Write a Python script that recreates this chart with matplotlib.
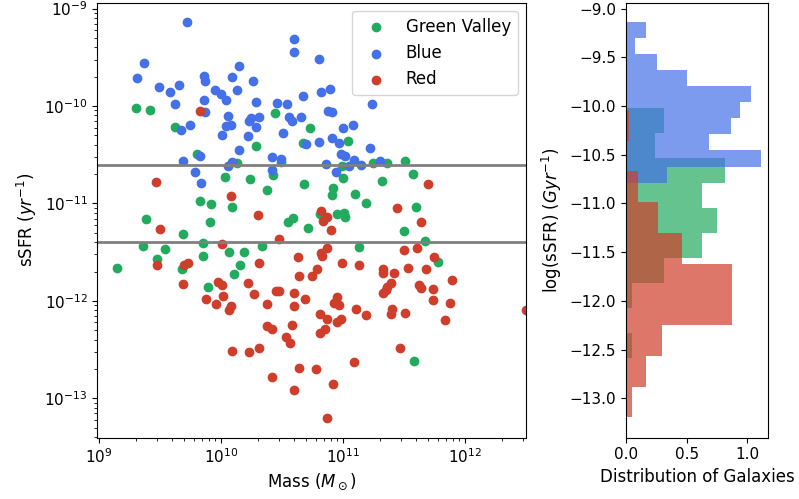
import numpy as np
import matplotlib
matplotlib.use("Agg")
import matplotlib.pyplot as plt
from matplotlib.ticker import NullFormatter

# log10 mass (Msun) and log10 sSFR (yr^-1) for each population
green_logm = [9.30, 9.42, 9.62, 10.44, 10.29, 9.80, 10.13, 10.49, 10.73, 10.67,
              11.04, 11.25, 11.36, 11.51, 10.99, 10.03, 10.24, 10.38, 10.43, 10.68,
              9.83, 9.92, 10.09, 9.39, 9.91, 9.69, 10.55, 10.59, 10.71, 9.36,
              9.54, 9.85, 9.85, 10.07, 10.19, 10.34, 9.48, 9.15, 9.68, 10.16,
              10.11, 9.89, 11.00, 10.92, 10.91, 11.10, 11.32, 11.57, 11.19, 11.60,
              10.81, 10.95, 11.01, 11.02, 11.50, 11.67, 11.13, 11.78, 11.58]
green_logs = [-10.02, -10.04, -10.22, -10.07, -10.41, -10.49, -10.59, -10.57, -10.23, -10.38,
              -10.36, -10.59, -10.59, -10.56, -10.62, -10.73, -10.75, -10.86, -10.71, -10.80,
              -10.97, -11.01, -11.04, -11.16, -11.19, -11.31, -11.19, -11.15, -11.25, -11.44,
              -11.47, -11.41, -11.54, -11.50, -11.50, -11.44, -11.57, -11.66, -11.67, -11.63,
              -11.72, -11.86, -10.74, -10.84, -10.91, -10.90, -10.77, -10.70, -11.00, -11.04,
              -11.11, -11.11, -11.10, -11.14, -11.28, -11.39, -11.45, -11.60, -12.62]

blue_logm = [9.72, 9.37, 9.31, 9.49, 9.58, 9.66, 9.62, 9.86, 9.87, 9.86,
             9.87, 9.95, 10.00, 10.04, 10.09, 10.13, 10.15, 10.26, 10.29, 10.06,
             10.04, 10.08, 10.01, 10.25, 10.23, 10.31, 10.29, 10.22, 10.15, 9.75,
             9.67, 9.69, 9.83, 10.09, 10.06, 10.42, 10.49, 10.51, 10.46, 10.54,
             10.60, 10.60, 10.67, 10.56, 10.58, 10.66, 10.70, 9.79, 10.42, 10.80,
             10.80, 10.82, 10.89, 11.24, 10.88, 10.91, 11.00, 11.08, 10.91, 10.97,
             11.22, 10.98, 11.02, 11.09, 11.15, 10.86, 11.30, 11.05, 9.84, 10.94]
blue_logs = [-9.14, -9.56, -9.71, -9.80, -9.86, -9.78, -9.98, -9.69, -9.74, -9.94,
             -10.06, -9.84, -9.88, -9.94, -9.70, -9.84, -9.59, -9.74, -9.96, -10.10,
             -10.21, -10.19, -10.30, -10.12, -10.15, -10.11, -10.22, -10.31, -10.45, -10.20,
             -10.25, -10.56, -10.51, -10.57, -10.62, -10.52, -10.54, -10.28, -9.97, -9.98,
             -9.31, -9.45, -9.90, -10.11, -10.15, -10.11, -10.39, -10.68, -10.66, -10.37,
             -9.52, -9.86, -9.83, -9.98, -10.05, -10.06, -10.23, -10.19, -10.33, -10.38,
             -10.43, -10.49, -10.51, -10.55, -10.61, -10.60, -10.56, -10.62, -10.79, -10.68]

red_logm = [9.83, 9.47, 10.08, 10.30, 9.50, 10.48, 10.01, 10.63, 9.48, 9.70,
            9.73, 10.31, 10.64, 10.75, 10.79, 9.69, 9.98, 10.01, 10.22, 10.27,
            10.02, 9.88, 9.96, 10.08, 10.07, 10.38, 10.45, 10.48, 10.60, 10.69,
            10.60, 11.70, 11.44, 11.64, 10.82, 10.87, 10.84, 10.90, 11.50, 11.61,
            10.87, 10.82, 10.83, 11.75, 10.99, 11.13, 11.33, 11.33, 11.42, 11.53,
            11.68, 11.89, 11.39, 11.36, 11.33, 11.35, 11.62, 11.64, 11.74, 10.95,
            10.93, 10.97, 11.11, 11.74, 11.88, 10.81, 10.98, 10.95, 10.87, 11.19,
            11.40, 11.39, 11.51, 11.84, 12.50, 10.85, 10.81, 10.38, 10.42, 10.58,
            10.53, 10.57, 10.09, 10.23, 10.31, 10.64, 10.78, 10.42, 10.60, 10.92,
            11.09, 11.47, 10.87]
red_logs = [-10.05, -10.78, -10.92, -11.12, -11.26, -11.37, -11.42, -11.55, -11.63, -11.63,
            -11.61, -11.61, -11.74, -11.74, -11.67, -11.83, -11.81, -11.84, -11.82, -11.93,
            -11.95, -11.98, -12.03, -12.05, -12.09, -12.03, -11.90, -11.90, -11.92, -11.98,
            -12.05, -10.80, -11.05, -11.19, -11.08, -11.14, -11.18, -11.27, -11.48, -11.46,
            -11.46, -11.51, -11.54, -11.55, -11.61, -11.63, -11.67, -11.71, -11.71, -11.66,
            -11.67, -11.79, -11.82, -11.86, -11.92, -11.89, -11.84, -11.87, -11.88, -11.96,
            -12.02, -12.04, -12.08, -11.99, -12.02, -12.13, -12.19, -12.22, -12.19, -12.15,
            -12.08, -12.13, -12.12, -12.20, -12.09, -12.29, -12.33, -12.26, -12.29, -12.25,
            -12.37, -12.43, -12.51, -12.52, -12.48, -12.69, -12.70, -12.78, -12.92, -12.85,
            -12.63, -12.48, -13.20]

# normalised histograms of log sSFR (bin edges bottom -> top, densities per bin)
green_edges = [-12.587, -12.331, -12.074, -11.818, -11.561, -11.305, -11.049, -10.792, -10.536, -10.279, -10.023]
green_dens = [0.053, 0.0, 0.053, 0.31, 0.629, 0.748, 0.629, 0.817, 0.241, 0.31]
blue_edges = [-10.786, -10.621, -10.456, -10.290, -10.125, -9.960, -9.795, -9.630, -9.464, -9.299, -9.134]
blue_dens = [0.338, 1.116, 0.684, 0.864, 0.94, 1.03, 0.507, 0.255, 0.075, 0.163]
red_edges = [-13.196, -12.880, -12.565, -12.249, -11.934, -11.618, -11.302, -10.987, -10.671, -10.356, -10.040]
red_dens = [0.053, 0.163, 0.296, 0.873, 0.873, 0.463, 0.263, 0.097, 0.0, 0.025]

cuts = [2.5e-11, 4e-12]

c_green = '#22aa5e'
c_blue = '#4470e8'
c_red = '#cf3d2b'

fig = plt.figure(figsize=(7.99, 4.99), dpi=100)
ax = fig.add_axes([0.1218, 0.1228, 0.5365, 0.8717])
ax2 = fig.add_axes([0.7835, 0.1228, 0.1777, 0.8717])

ax.scatter(10**np.array(green_logm), 10**np.array(green_logs), color=c_green, label='Green Valley')
ax.scatter(10**np.array(blue_logm), 10**np.array(blue_logs), color=c_blue, label='Blue')
ax.scatter(10**np.array(red_logm), 10**np.array(red_logs), color=c_red, label='Red')
for c in cuts:
    ax.axhline(c, color='grey', lw=2)
ax.set_xscale('log')
ax.set_yscale('log')
ax.set_xticks([1e9, 1e10, 1e11, 1e12])
ax.set_yticks([1e-13, 1e-12, 1e-11, 1e-10, 1e-9])
ax.set_xlim(10**8.987, 10**12.5)
ax.set_ylim(10**-13.405, 10**-8.94)
ax.xaxis.set_minor_formatter(NullFormatter())
ax.yaxis.set_minor_formatter(NullFormatter())
ax.set_xlabel(r'Mass ($M_\odot$)', fontsize=12)
ax.set_ylabel(r'sSFR ($yr^{-1}$)', fontsize=12)
ax.tick_params(labelsize=11)
ax.legend(loc='upper right', fontsize=12)

for edges, dens, col in [(green_edges, green_dens, c_green),
                         (blue_edges, blue_dens, c_blue),
                         (red_edges, red_dens, c_red)]:
    e = np.array(edges)
    mids = (e[:-1] + e[1:]) / 2
    ax2.hist(mids, bins=e, weights=dens, orientation='horizontal',
             histtype='stepfilled', color=col, alpha=0.7)
ax2.set_ylim(-13.405, -8.94)
ax2.set_yticks(np.arange(-13.0, -8.99, 0.5))
ax2.set_xticks([0.0, 0.5, 1.0])
ax2.set_xlabel('Distribution of Galaxies', fontsize=12)
ax2.set_ylabel(r'log(sSFR) ($Gyr^{-1}$)', fontsize=12)
ax2.tick_params(labelsize=11)

fig.savefig('out.png', dpi=100)
